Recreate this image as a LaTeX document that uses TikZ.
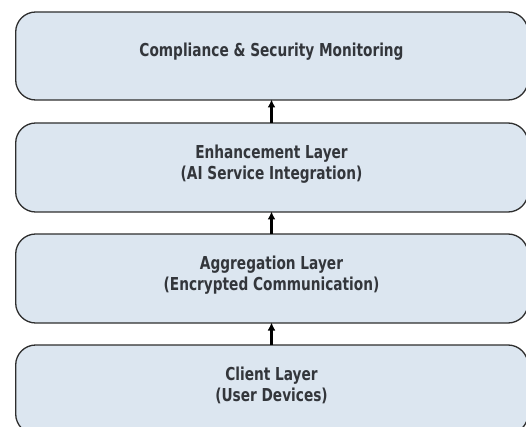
\documentclass[tikz,border=0pt]{standalone}
\usepackage{fontspec}
\usepackage{graphicx}
\setmainfont{DejaVu Sans}
\usetikzlibrary{arrows.meta}
\definecolor{boxfill}{HTML}{DCE6F0}
\definecolor{boxline}{HTML}{2E2E2E}
\definecolor{txt}{HTML}{33363B}
\newcommand{\tall}[1]{\scalebox{1}[1.3]{\begin{tabular}{@{}c@{}}#1\end{tabular}}}
\begin{document}
\begin{tikzpicture}[x=1pt,y=-1pt,
  layer/.style={draw=boxline, fill=boxfill, line width=1.3pt, rounded corners=20pt},
  lbl/.style={font=\fontsize{13.7}{15.4}\selectfont\bfseries, text=txt, inner sep=0pt},
  up/.style={-{Latex[length=8pt,width=8pt]}, line width=2.4pt, black, shorten >=-0.5pt}]
\useasboundingbox (0,0) rectangle (526,427);
\draw[layer] (15.7,12) rectangle (528,100);
\draw[layer] (15.7,123) rectangle (528,212);
\draw[layer] (15.7,234) rectangle (528,323);
\draw[layer] (15.7,345) rectangle (528,434);
\coordinate (b1) at (271.5,100);
\coordinate (t2) at (271.5,123);
\coordinate (b2) at (271.5,212);
\coordinate (t3) at (271.5,234);
\coordinate (b3) at (271.5,323);
\coordinate (t4) at (271.5,345);
\node[lbl] (n1) at (271.5,52) {\tall{Compliance \& Security Monitoring}};
\node[lbl] (n2) at (271.5,165) {\tall{Enhancement Layer\\(AI Service Integration)}};
\node[lbl] (n3) at (271.5,276) {\tall{Aggregation Layer\\(Encrypted Communication)}};
\node[lbl] (n4) at (271.5,387) {\tall{Client Layer\\(User Devices)}};
\draw[up] (t2) -- (b1);
\draw[up] (t3) -- (b2);
\draw[up] (t4) -- (b3);
\end{tikzpicture}
\end{document}
